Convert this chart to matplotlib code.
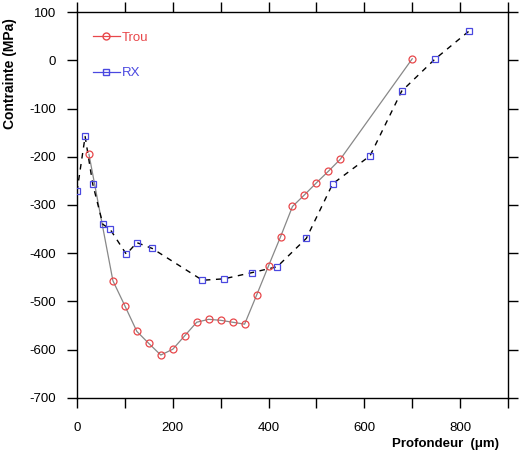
import numpy as np
import matplotlib
matplotlib.use("Agg")
import matplotlib.pyplot as plt
from matplotlib.lines import Line2D
from matplotlib.ticker import MultipleLocator, FuncFormatter

plt.rcParams['font.family'] = ['Liberation Sans', 'DejaVu Sans']
plt.rcParams['axes.unicode_minus'] = False

# Trou (hole drilling) data
trou_x = [25, 75, 100, 125, 150, 175, 200, 225, 250, 275, 300, 325, 350,
          375, 400, 425, 450, 475, 500, 525, 550, 700]
trou_y = [-195, -457, -509, -562, -587, -611, -599, -571, -543, -537, -539,
          -543, -547, -487, -426, -366, -303, -279, -254, -230, -205, 3]

# RX (X-ray) data
rx_x = [0, 17, 33, 54, 69, 103, 125, 157, 262, 307, 366, 418, 479, 534,
        612, 678, 747, 818]
rx_y = [-272, -158, -257, -340, -350, -402, -378, -390, -456, -453, -440,
        -428, -369, -256, -198, -64, 2, 60]

fig = plt.figure(figsize=(5.23, 4.5), dpi=100)
ax = fig.add_axes([0.1472, 0.1156, 0.9713 - 0.1472, 0.9733 - 0.1156])

# data lines
ax.plot(trou_x, trou_y, color='#888888', lw=0.9, zorder=2)
ax.plot(trou_x, trou_y, ls='none', marker='o', ms=5, mfc='none',
        mec='#e8474a', mew=0.9, zorder=3)
ax.plot(rx_x, rx_y, color='black', lw=1.0, ls=(0, (4, 4)), zorder=2)
ax.plot(rx_x, rx_y, ls='none', marker='s', ms=5, mfc='none',
        mec='#4a48e0', mew=0.9, zorder=3)

ax.set_xlim(0, 900)
ax.set_ylim(-700, 100)

ax.xaxis.set_major_locator(MultipleLocator(100))
ax.xaxis.set_major_formatter(FuncFormatter(
    lambda v, p: '%d' % v if int(round(v)) % 200 == 0 and v < 900 else ''))
ax.yaxis.set_major_locator(MultipleLocator(100))

ax.tick_params(axis='both', direction='out', length=7, width=1,
               labelsize=9.5, top=True, right=True)
ax.tick_params(axis='x', pad=10.5)
ax.tick_params(axis='y', pad=8)
for s in ax.spines.values():
    s.set_linewidth(1)

ax.set_ylabel('Contrainte (MPa)', fontsize=10, fontweight='bold')
ax.yaxis.set_label_coords(-0.139, 0.84)

fig.text(0.7495, 0.001, 'Profondeur  (μm)', fontsize=9.5,
         fontweight='bold', va='bottom', ha='left')

# legend
handles = [Line2D([], [], color='#e8474a', lw=0.9, marker='o', ms=5,
                  mfc='none', mec='#e8474a'),
           Line2D([], [], color='#4a48e0', lw=0.9, marker='s', ms=5,
                  mfc='none', mec='#4a48e0')]
leg = ax.legend(handles, ['Trou', 'RX'], loc='upper left', frameon=False,
                fontsize=9.5, handlelength=2.0, handletextpad=0.2,
                labelspacing=1.75, bbox_to_anchor=(0.01, 0.98))
leg.get_texts()[0].set_color('#e8474a')
leg.get_texts()[1].set_color('#4a48e0')

fig.savefig('out.png', dpi=100)
